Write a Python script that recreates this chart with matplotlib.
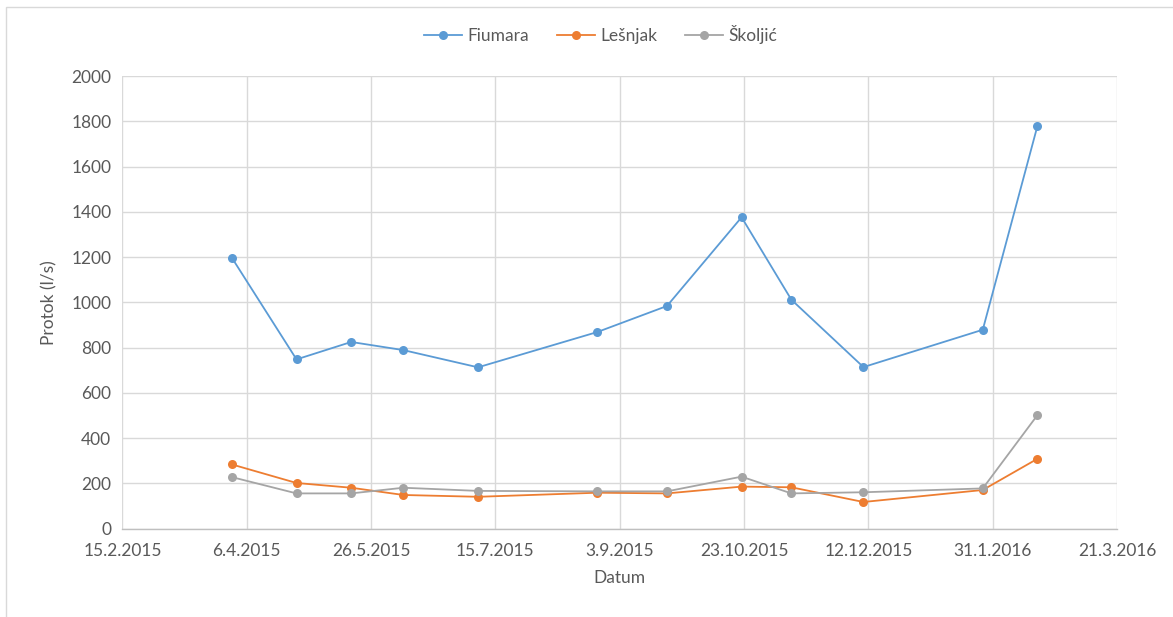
import matplotlib
matplotlib.use("Agg")
import matplotlib.pyplot as plt
import matplotlib.dates as mdates
import pandas as pd
from matplotlib.patches import Rectangle

plt.rcParams['font.family'] = ['Lato', 'DejaVu Sans']

# Measurement dates
dates = ["2015-03-31", "2015-04-26", "2015-05-18", "2015-06-08", "2015-07-08",
         "2015-08-25", "2015-09-22", "2015-10-22", "2015-11-11", "2015-12-10",
         "2016-01-27", "2016-02-18"]

# Discharge (l/s)
fiumara = [1197, 748, 825, 789, 713, 869, 984, 1376, 1012, 714, 879, 1780]
lesnjak = [284, 202, 181, 149, 141, 159, 156, 186, 183, 118, 171, 309]
skoljic = [228, 156, 156, 181, 167, 165, 165, 230, 156, 161, 178, 502]

tick_dates = ["2015-02-15", "2015-04-06", "2015-05-26", "2015-07-15", "2015-09-03",
              "2015-10-23", "2015-12-12", "2016-01-31", "2016-03-21"]
tick_labels = ["15.2.2015", "6.4.2015", "26.5.2015", "15.7.2015", "3.9.2015",
               "23.10.2015", "12.12.2015", "31.1.2016", "21.3.2016"]

series_names = ["Fiumara", "Lešnjak", "Školjić"]
colors = ["#5B9BD5", "#ED7D31", "#A5A5A5"]
text_color = "#595959"

x = pd.to_datetime(dates)
xt = pd.to_datetime(tick_dates)

fig = plt.figure(figsize=(11.73, 6.17), dpi=100)
fig.patch.set_facecolor("white")

# chart frame
fig.add_artist(Rectangle((6 / 1173, -0.05), 1.2, 1 - 7 / 617 + 0.05,
                         transform=fig.transFigure, fill=False,
                         edgecolor="#D9D9D9", linewidth=1.0))

ax = fig.add_axes([0.1044, 0.1431, 0.9523 - 0.1044, 0.8768 - 0.1431])

for vals, name, c in zip([fiumara, lesnjak, skoljic], series_names, colors):
    ax.plot(x, vals, color=c, linewidth=1.3, marker="o", markersize=6.5,
            markeredgewidth=0, label=name, zorder=3)

ax.set_xlim(xt[0], xt[-1])
ax.set_ylim(0, 2000)
ax.set_yticks(range(0, 2001, 200))
ax.set_xticks(xt)
ax.set_xticklabels(tick_labels)

ax.grid(True, color="#D9D9D9", linewidth=1.0, zorder=0)
for side in ["top", "right", "left"]:
    ax.spines[side].set_visible(False)
ax.spines["bottom"].set_color("#BFBFBF")
ax.spines["bottom"].set_linewidth(1.0)

ax.tick_params(axis="both", length=0, labelsize=12.5, colors=text_color, pad=8)
ax.tick_params(axis="x", pad=10)

ax.set_xlabel("Datum", fontsize=12.5, color=text_color, labelpad=8)
ax.set_ylabel("Protok (l/s)", fontsize=12.5, color=text_color, labelpad=10)

leg = fig.legend(loc="center", bbox_to_anchor=(0.512, 0.944), ncol=3,
                 frameon=False, fontsize=12.5, handlelength=2.2,
                 columnspacing=1.6, handletextpad=0.3)
for t in leg.get_texts():
    t.set_color(text_color)

fig.savefig("out.png", dpi=100)
